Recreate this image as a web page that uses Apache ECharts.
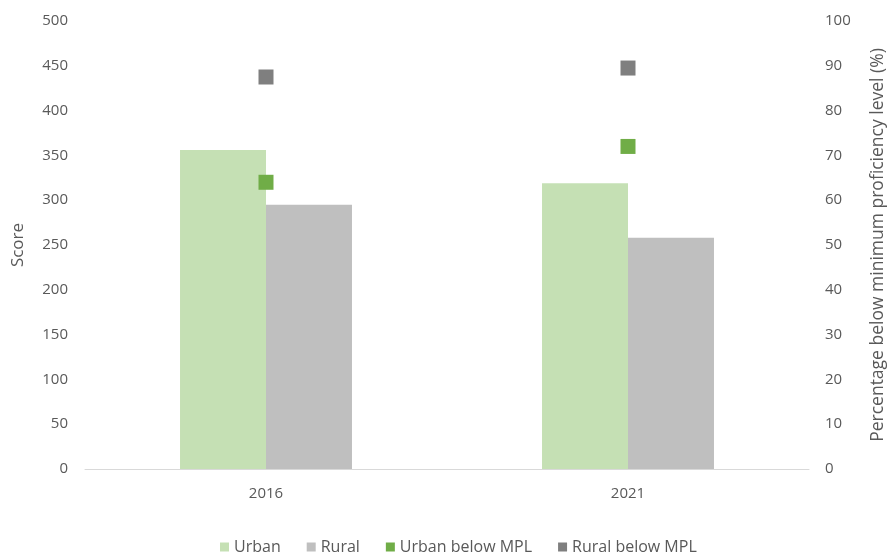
<!DOCTYPE html>
<html>
<head>
<meta charset="utf-8">
<script src="https://cdn.jsdelivr.net/npm/echarts@6/dist/echarts.min.js"></script>
<style>
  html, body { margin: 0; padding: 0; background: #ffffff; }
  #chart { width: 888px; height: 553px; }
</style>
</head>
<body>
<div id="chart"></div>
<script>
// Years on the category axis
const years = ['2016', '2021'];
// Mean scores (left axis)
const urbanScore = [356, 319];
const ruralScore = [295, 258];
// Share of pupils below minimum proficiency level, % (right axis)
const urbanBelowMPL = [64, 72];
const ruralBelowMPL = [87.5, 89.5];
// Axis tick settings
const scoreMax = 500, scoreStep = 50;
const pctMax = 100, pctStep = 10;

const textColor = '#595959';
const font = 'Open Sans';

const chart = echarts.init(document.getElementById('chart'), null, { renderer: 'canvas' });
chart.setOption({
  animation: false,
  textStyle: { fontFamily: font },
  grid: { left: 85, right: 79, top: 21, bottom: 84, containLabel: false, outerBoundsMode: 'none' },
  legend: {
    top: 534,
    left: 215,
    icon: 'rect',
    itemWidth: 9,
    itemHeight: 9,
    itemGap: 26,
    textStyle: { color: textColor, fontSize: 16, fontFamily: font },
    data: ['Urban', 'Rural', 'Urban below MPL', 'Rural below MPL']
  },
  xAxis: {
    type: 'category',
    data: years,
    axisLine: { lineStyle: { color: '#d9d9d9' } },
    axisTick: { show: false },
    axisLabel: { color: textColor, fontSize: 15, margin: 17 }
  },
  yAxis: [
    {
      type: 'value',
      min: 0, max: scoreMax, interval: scoreStep,
      name: 'Score',
      nameLocation: 'middle',
      nameRotate: 90,
      nameGap: 58,
      nameTextStyle: { color: textColor, fontSize: 17 },
      axisLine: { show: false },
      axisTick: { show: false },
      splitLine: { show: false },
      axisLabel: { color: textColor, fontSize: 15, margin: 17 }
    },
    {
      type: 'value',
      min: 0, max: pctMax, interval: pctStep,
      position: 'right',
      name: 'Percentage below minimum proficiency level (%)',
      nameLocation: 'middle',
      nameRotate: 90,
      nameGap: 60,
      nameTextStyle: { color: textColor, fontSize: 17.5 },
      axisLine: { show: false },
      axisTick: { show: false },
      splitLine: { show: false },
      axisLabel: { color: textColor, fontSize: 15, margin: 16 }
    }
  ],
  series: [
    {
      name: 'Urban', type: 'bar', yAxisIndex: 0,
      data: urbanScore, barGap: '0%', barCategoryGap: '52.5%',
      itemStyle: { color: '#c5e0b4' }
    },
    {
      name: 'Rural', type: 'bar', yAxisIndex: 0,
      data: ruralScore, barGap: '0%', barCategoryGap: '52.5%',
      itemStyle: { color: '#bfbfbf' }
    },
    {
      name: 'Urban below MPL', type: 'scatter', yAxisIndex: 1,
      data: urbanBelowMPL, symbol: 'rect', symbolSize: 15,
      itemStyle: { color: '#70ad47', opacity: 1 }
    },
    {
      name: 'Rural below MPL', type: 'scatter', yAxisIndex: 1,
      data: ruralBelowMPL, symbol: 'rect', symbolSize: 15,
      itemStyle: { color: '#7f7f7f', opacity: 1 }
    }
  ]
});
</script>
</body>
</html>
